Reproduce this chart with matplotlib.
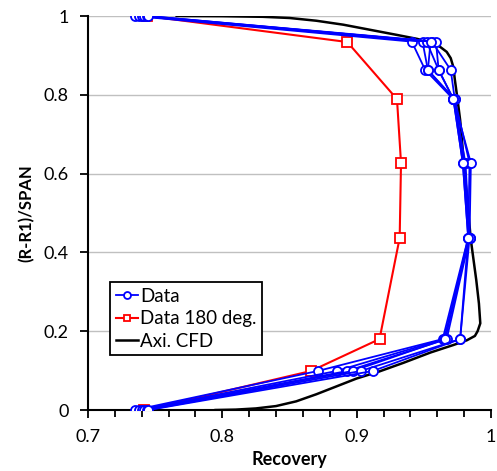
import matplotlib.pyplot as plt
import numpy as np
from matplotlib.ticker import MultipleLocator

plt.rcParams['font.family'] = ['Lato', 'DejaVu Sans']

# span positions of the probe traverse
span = [0.0, 0.099, 0.18, 0.437, 0.627, 0.789, 0.863, 0.935, 1.0]

# recovery measured at each span position, one list per traverse
traverses = [
    [0.735, 0.871, 0.964, 0.983, 0.979, 0.972, 0.951, 0.941, 0.735],
    [0.738, 0.885, 0.965, 0.984, 0.980, 0.973, 0.953, 0.949, 0.738],
    [0.740, 0.893, 0.967, 0.984, 0.981, 0.972, 0.961, 0.952, 0.740],
    [0.742, 0.897, 0.966, 0.983, 0.984, 0.973, 0.970, 0.956, 0.742],
    [0.744, 0.903, 0.977, 0.984, 0.985, 0.972, 0.961, 0.959, 0.744],
    [0.745, 0.912, 0.977, 0.983, 0.979, 0.972, 0.953, 0.955, 0.745],
]

# 180 degree traverse
span_180 = [0.0, 0.099, 0.18, 0.437, 0.627, 0.789, 0.934, 1.0]
rec_180 = [0.742, 0.866, 0.917, 0.932, 0.933, 0.930, 0.893, 0.744]

# axisymmetric CFD profile, hub to tip
cfd_rec = [0.795, 0.810, 0.825, 0.840, 0.855, 0.870, 0.885, 0.900, 0.917,
           0.935, 0.955, 0.972, 0.982, 0.988, 0.990, 0.992, 0.991, 0.989,
           0.985, 0.981, 0.977, 0.975, 0.973, 0.972, 0.970, 0.967, 0.962,
           0.955, 0.945, 0.930, 0.910, 0.890, 0.870, 0.850, 0.830, 0.800,
           0.766]
cfd_span = [0.0, 0.001, 0.004, 0.010, 0.022, 0.040, 0.060, 0.080, 0.098,
            0.120, 0.146, 0.165, 0.177, 0.188, 0.200, 0.220, 0.270, 0.330,
            0.431, 0.580, 0.736, 0.790, 0.840, 0.870, 0.893, 0.909, 0.922,
            0.933, 0.942, 0.952, 0.965, 0.978, 0.988, 0.995, 0.998, 0.9995,
            1.0]

fig = plt.figure(figsize=(4.97, 4.71), dpi=100)
ax = fig.add_axes([0.177, 0.1295, 0.811, 0.8365])

for i, rec in enumerate(traverses):
    ax.plot(rec, span, color='#0000ff', lw=1.3, marker='o', ms=6.5,
            mfc='white', mec='#0000ff', mew=1.3,
            label='Data' if i == 0 else None, zorder=3)

ax.plot(rec_180, span_180, color='#ff0000', lw=1.5, marker='s', ms=7,
        mfc='white', mec='#ff0000', mew=1.3, label='Data 180 deg.', zorder=2)

ax.plot(cfd_rec, cfd_span, color='black', lw=1.8, label='Axi. CFD', zorder=2)

ax.set_xlim(0.7, 1.0)
ax.set_ylim(0, 1.0)
ax.xaxis.set_minor_locator(MultipleLocator(0.02))
ax.set_xticks([0.7, 0.8, 0.9, 1.0])
ax.set_xticklabels(['0.7', '0.8', '0.9', '1'])
ax.set_yticks([0, 0.2, 0.4, 0.6, 0.8, 1.0])
ax.set_yticklabels(['0', '0.2', '0.4', '0.6', '0.8', '1'])

ax.grid(axis='y', color='#c0c0c0', lw=1)
ax.set_axisbelow(True)
for s in ['top', 'right']:
    ax.spines[s].set_visible(False)
ax.spines['left'].set_linewidth(1.5)
ax.spines['bottom'].set_linewidth(1.5)
ax.tick_params(axis='both', which='both', direction='out', width=1.3,
               labelsize=13)
ax.tick_params(axis='both', which='major', length=6, pad=8)
ax.tick_params(axis='x', which='minor', length=5)

ax.set_xlabel('Recovery', fontsize=13, fontweight='bold', labelpad=4)
ax.set_ylabel('(R-R1)/SPAN', fontsize=12, fontweight='bold', labelpad=6)

leg = ax.legend(loc='upper left', bbox_to_anchor=(0.055, 0.325),
                fontsize=13.5, handlelength=1.2, handletextpad=0.1,
                borderpad=0.3, labelspacing=0.3, fancybox=False,
                framealpha=1, borderaxespad=0)
leg.get_frame().set_edgecolor('black')
leg.get_frame().set_linewidth(1.3)
for h in leg.legend_handles:
    h.set_markersize(5)

fig.savefig('out.png', dpi=100)
